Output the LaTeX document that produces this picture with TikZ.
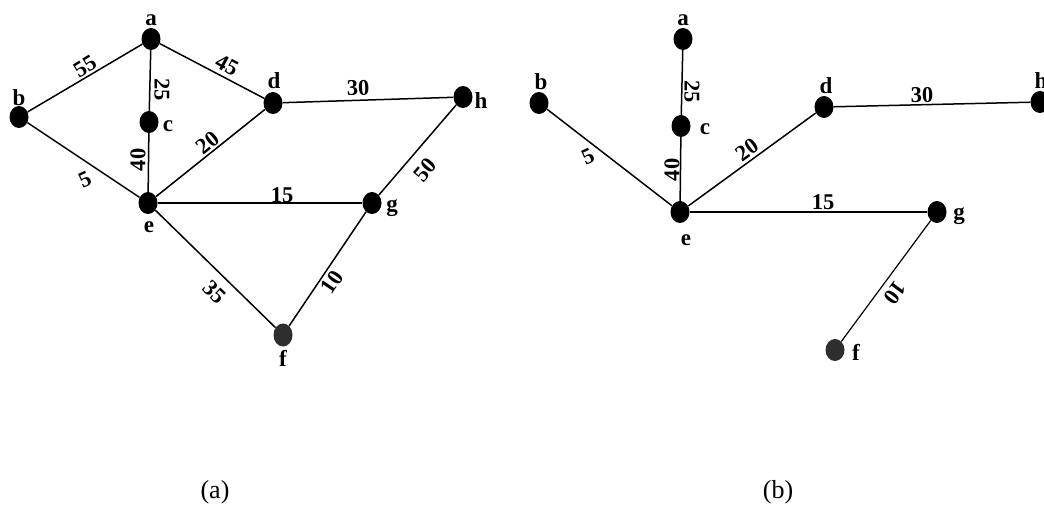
\documentclass[tikz,border=0pt]{standalone}
\usepackage{fontspec}
\setmainfont{Liberation Serif}
\usetikzlibrary{shapes.geometric}
\tikzset{
  vtx/.style={ellipse, fill=black, draw=none, minimum width=19pt, minimum height=22pt, inner sep=0pt},
  vtxg/.style={vtx, fill=black!82},
  vlab/.style={font=\bfseries\fontsize{23}{23}\selectfont, inner sep=0pt},
  elab/.style={font=\bfseries\fontsize{22.5}{22.5}\selectfont, inner sep=0pt},
  edge/.style={line width=1.5pt, draw=black},
  captext/.style={font=\fontsize{26}{26}\selectfont, inner sep=0pt}
}
\begin{document}
\begin{tikzpicture}[x=1pt,y=-1pt]
\clip (0,0) rectangle (1044,505);
\fill[white] (0,0) rectangle (1044,505);
% ---------- graph (a) ----------
\node[vtx] (a1) at (151,39) {};
\node[vtx] (b1) at (19,117) {};
\node[vtx] (c1) at (149,122) {};
\node[vtx] (d1) at (273,103) {};
\node[vtx] (e1) at (148,203) {};
\node[vtxg, minimum height=23pt] (f1) at (283,335) {};
\node[vtx] (g1) at (372,203) {};
\node[vtx] (h1) at (463,97) {};
\draw[edge] (b1) -- (a1);
\draw[edge] (a1) -- (c1);
\draw[edge] (c1) -- (e1);
\draw[edge] (a1) -- (d1);
\draw[edge] (b1) -- (e1);
\draw[edge] (e1) -- (d1);
\draw[edge] (d1) -- (h1);
\draw[edge] (e1) -- (g1);
\draw[edge] (h1) -- (g1);
\draw[edge] (e1) -- (f1);
\draw[edge] (f1) -- (g1);
\node[vlab] (la1) at (151,20) {a};
\node[vlab] (lb1) at (19,98) {b};
\node[vlab] (lc1) at (168,126) {c};
\node[vlab] (ld1) at (274,81) {d};
\node[vlab] (le1) at (149,227) {e};
\node[vlab] (lf1) at (283,358) {f};
\node[vlab] (lg1) at (392,208) {g};
\node[vlab] (lh1) at (481,101) {h};
\node[elab, rotate=31] (w55) at (85,66) {55};
\node[elab, rotate=-28] (w45) at (227,65) {45};
\node[elab, rotate=-90] (w25) at (162,90) {25};
\node[elab, rotate=90] (w40) at (138,160) {40};
\node[elab, rotate=25] (w5) at (85,180) {5};
\node[elab, rotate=39] (w20) at (208,143) {20};
\node[elab, rotate=2] (w30) at (358,88) {30};
\node[elab] (w15) at (282,195) {15};
\node[elab, rotate=49] (w50) at (425,170) {50};
\node[elab, rotate=-44] (w35) at (215,292) {35};
\node[elab, rotate=56] (w10) at (332,282) {10};
% ---------- graph (b) ----------
\node[vtx] (a2) at (683,39) {};
\node[vtx] (b2) at (539,103) {};
\node[vtx] (c2) at (681,126) {};
\node[vtx] (d2) at (824,107) {};
\node[vtx] (e2) at (680,212) {};
\node[vtxg] (f2) at (835,350) {};
\node[vtx] (g2) at (937,212) {};
\node[vtx] (h2) at (1040,102) {};
\draw[edge] (a2) -- (c2);
\draw[edge] (c2) -- (e2);
\draw[edge] (b2) -- (e2);
\draw[edge] (e2) -- (d2);
\draw[edge] (d2) -- (h2);
\draw[edge] (e2) -- (g2);
\draw[edge, line width=1.2pt] (g2) -- (f2);
\node[vlab] (la2) at (683,20) {a};
\node[vlab] (lb2) at (541,82) {b};
\node[vlab] (lc2) at (705,129) {c};
\node[vlab] (ld2) at (826,86) {d};
\node[vlab] (le2) at (686,240) {e};
\node[vlab] (lf2) at (856,352) {f};
\node[vlab] (lg2) at (959,216) {g};
\node[vlab] (lh2) at (1041,81) {h};
\node[elab, rotate=-90] (x25) at (692,92) {25};
\node[elab, rotate=90] (x40) at (672,170) {40};
\node[elab, rotate=25] (x5) at (588,157) {5};
\node[elab, rotate=36] (x20) at (747,150) {20};
\node[elab, rotate=1] (x30) at (922,95) {30};
\node[elab] (x15) at (823,202) {15};
\node[elab, rotate=233.5] (x10) at (895,293) {10};
% ---------- captions ----------
\node[captext] (capa) at (215,492) {(a)};
\node[captext] (capb) at (778,492) {(b)};
\end{tikzpicture}
\end{document}
